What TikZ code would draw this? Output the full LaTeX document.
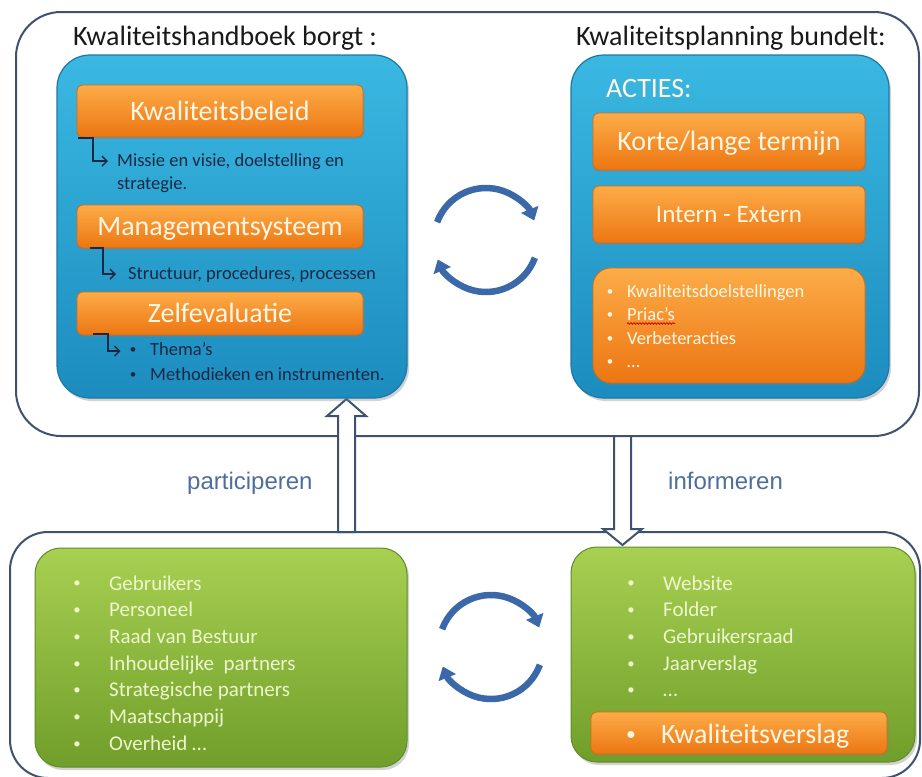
\documentclass[tikz,border=0pt]{standalone}
\usepackage{fontspec}
\setmainfont{Carlito}
\newfontfamily\arialfont{Liberation Sans}
\usetikzlibrary{arrows.meta,shadows,decorations.pathmorphing}
\definecolor{frameblue}{RGB}{62,82,112}
\definecolor{blueTop}{RGB}{58,184,226}
\definecolor{blueBot}{RGB}{28,140,190}
\definecolor{blueEdge}{RGB}{30,120,165}
\definecolor{orTop}{RGB}{252,172,72}
\definecolor{orBot}{RGB}{236,118,18}
\definecolor{orEdge}{RGB}{215,105,20}
\definecolor{orText}{RGB}{255,246,228}
\definecolor{grTop}{RGB}{168,208,82}
\definecolor{grBot}{RGB}{112,158,42}
\definecolor{grEdge}{RGB}{98,140,38}
\definecolor{grText}{RGB}{238,246,205}
\definecolor{navytext}{RGB}{26,40,68}
\definecolor{cblue}{RGB}{58,104,168}
\definecolor{labelblue}{RGB}{78,110,158}
\newcommand{\smallbul}{\raisebox{0.1em}{\scalebox{0.7}{•}}}
\begin{document}
\begin{tikzpicture}[x=1pt,y=-1pt,
  frame/.style={draw=frameblue, line width=2pt, rounded corners=45pt, fill=white},
  bluebox/.style={rounded corners=33pt, top color=blueTop, bottom color=blueBot, draw=blueEdge, line width=1.2pt,
     drop shadow={opacity=0.35, shadow xshift=2pt, shadow yshift=-3pt}},
  obar/.style={rounded corners=6pt, top color=orTop, bottom color=orBot, draw=orEdge, line width=0.8pt,
     text=orText, font=\fontsize{28}{30}\selectfont, text height=18pt, text depth=0pt, inner sep=0pt,
     drop shadow={opacity=0.3, shadow xshift=1.5pt, shadow yshift=-2pt}},
  greenbox/.style={rounded corners=26pt, top color=grTop, bottom color=grBot, draw=grEdge, line width=1pt,
     drop shadow={opacity=0.35, shadow xshift=2pt, shadow yshift=-3pt}},
  title/.style={font=\fontsize{28}{32}\selectfont, text=black!90, inner sep=0pt, anchor=base west},
  ltext/.style={font=\fontsize{18.5}{22}\selectfont, text=navytext, inner sep=0pt},
  otext/.style={font=\fontsize{18.5}{22}\selectfont, text=orText, inner sep=0pt},
  gtext/.style={font=\fontsize{21}{25}\selectfont, text=grText, inner sep=0pt},
  elbow/.style={draw=navytext, line width=1.4pt, -{Straight Barb[length=5pt,width=10pt,line width=1.4pt]}},
  hollow/.style={draw=frameblue, line width=2pt, fill=white, line join=miter},
  carrow/.style={draw=cblue, line width=6.5pt, -{Triangle[length=12pt,width=18pt]}},
  flowlabel/.style={font=\arialfont\fontsize{24}{28}\selectfont, text=labelblue, inner sep=0pt, anchor=base west}
]
\useasboundingbox (0,0) rectangle (922,777);
\clip (0,0) rectangle (922,777);
\fill[white] (0,0) rectangle (922,777);

% outer frames
\node[frame, minimum width=903pt, minimum height=424pt] (topframe) at (467.5,224) {};
\node[frame, minimum width=910pt, minimum height=246pt, rounded corners=38pt] (botframe) at (465,655) {};

% hollow arrows
\draw[hollow] (338,532) -- (338,416) -- (327,416) -- (346.5,399) -- (366,416) -- (355,416) -- (355,532) -- cycle;
\draw[hollow] (614,436) -- (614,529) -- (603,529) -- (622.5,545) -- (642,529) -- (631,529) -- (631,436) -- cycle;

% titles
\node[title] (t1) at (73,45) {Kwaliteitshandboek borgt :};
\node[title] (t2) at (576,45) {Kwaliteitsplanning bundelt:};

% left blue box
\node[bluebox, minimum width=350pt, minimum height=343pt] (lb) at (232,226.5) {};
\node[obar, minimum width=286pt, minimum height=52pt] (kb) at (220,111) {Kwaliteitsbeleid};
\node[obar, minimum width=286pt, minimum height=43pt] (ms) at (220,226.5) {Managementsysteem};
\node[obar, minimum width=286pt, minimum height=43pt] (ze) at (220,313.5) {Zelfevaluatie};

\node[ltext, anchor=base west] (m1) at (117,166) {Missie en visie, doelstelling en};
\node[ltext, anchor=base west] (m2) at (117,189) {strategie.};
\node[ltext, anchor=base west] (s1) at (128,279) {Structuur, procedures, processen};
\node[ltext, anchor=base] (zb1) at (133,355) {\smallbul};
\node[ltext, anchor=base west] (z1) at (150,355) {Thema’s};
\node[ltext, anchor=base] (zb2) at (133,380) {\smallbul};
\node[ltext, anchor=base west] (z2) at (150,380) {Methodieken en instrumenten.};

\draw[elbow] (78,138) -- (93,138) |- ([xshift=-9pt]m1.west);
\draw[elbow] (90,248) -- (103,248) |- ([xshift=-12pt]s1.west);
\draw[elbow] (93,334) -- (108,334) |- ([xshift=-9pt]zb1.west);

% right blue box
\node[bluebox, minimum width=318pt, minimum height=343pt] (rb) at (730,226.5) {};
\node[title, text=orText] (acties) at (606,97) {ACTIES:};
\node[obar, minimum width=272pt, minimum height=57pt] (kt) at (729,141.5) {Korte/lange termijn};
\node[obar, minimum width=272pt, minimum height=57pt, font=\fontsize{25}{28}\selectfont, text height=16pt] (ie) at (729,214.5) {Intern - Extern};
\node[obar, minimum width=272pt, minimum height=115pt, rounded corners=18pt] (lst) at (729,325.5) {};
\foreach \t [count=\i] in {Kwaliteitsdoelstellingen, Priac’s, Verbeteracties, …} {
  \node[otext, anchor=base] (pb\i) at (610,{297+23.5*(\i-1)}) {\smallbul};
  \node[otext, anchor=base west] (p\i) at (627,{297+23.5*(\i-1)}) {\t};
}
\draw[red!80!black, line width=0.7pt, decorate, decoration={snake, amplitude=0.9pt, segment length=3pt}]
  ([yshift=-3pt]p2.base west) -- ([yshift=-3pt]p2.base east);

% cycle arrows top
\draw[carrow] (486,240) ++(200:52) arc (200:338:52);
\draw[carrow] (486,240) ++(20:52) arc (20:158:52);

% labels
\node[flowlabel] (part) at (187,489) {participeren};
\node[flowlabel] (info) at (668,489) {informeren};

% green left box
\node[greenbox, minimum width=372pt, minimum height=219pt] (gl) at (221,657.5) {};
\foreach \t [count=\i] in {Gebruikers, Personeel, Raad van Bestuur, Inhoudelijke\ \ partners, Strategische partners, Maatschappij, Overheid …} {
  \node[gtext, anchor=base] (gb\i) at (77,{590+26.7*(\i-1)}) {\smallbul};
  \node[gtext, anchor=base west] (gt\i) at (109,{590+26.7*(\i-1)}) {\t};
}

% cycle arrows bottom
\draw[carrow] (491,647) ++(200:52) arc (200:338:52);
\draw[carrow] (491,647) ++(20:52) arc (20:158:52);

% green right box
\node[greenbox, minimum width=344pt, minimum height=215pt] (gr) at (743,654.5) {};
\foreach \t [count=\i] in {Website, Folder, Gebruikersraad, Jaarverslag, …} {
  \node[gtext, anchor=base] (rb\i) at (631,{590+26.7*(\i-1)}) {\smallbul};
  \node[gtext, anchor=base west] (rt\i) at (663,{590+26.7*(\i-1)}) {\t};
}
\node[obar, minimum width=296pt, minimum height=42pt] (kv) at (739,733) {};
\node[font=\fontsize{28}{30}\selectfont, text=orText, inner sep=0pt, anchor=base west] (kvt) at (661,743) {Kwaliteitsverslag};
\node[font=\fontsize{28}{30}\selectfont, text=orText, inner sep=0pt, anchor=base] (kvb) at (631,743) {\smallbul};
\end{tikzpicture}
\end{document}
